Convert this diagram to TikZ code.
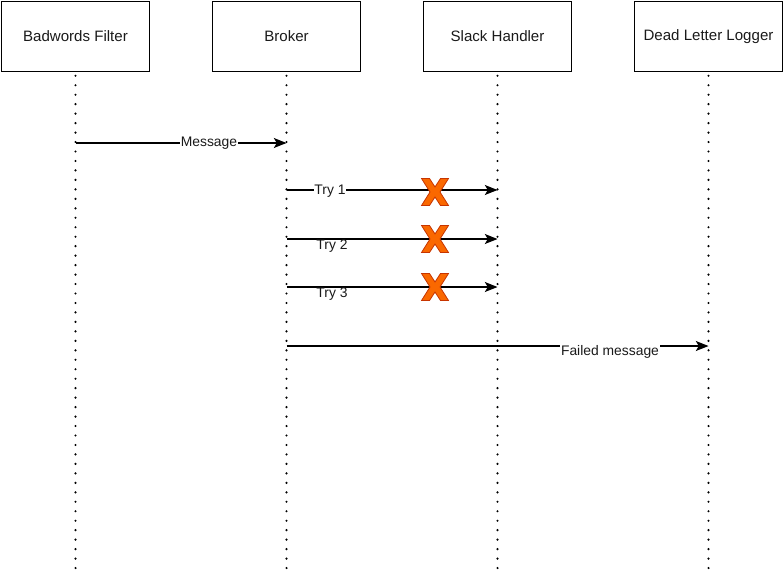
\documentclass[tikz,border=0pt]{standalone}
\usepackage{fontspec}
\setmainfont{Liberation Sans}
\usetikzlibrary{arrows.meta}
\definecolor{xfill}{HTML}{FA6800}
\definecolor{xline}{HTML}{C73500}
\definecolor{txt}{HTML}{1A1A1A}
\tikzset{
  actor/.style={draw, line width=0.9pt, minimum width=111.5pt, minimum height=53pt, inner sep=0pt, font=\fontsize{11.3pt}{13pt}\selectfont, text=txt},
  lifeline/.style={line width=1.8pt, line cap=round, dash pattern=on 0pt off 7.1pt},
  msg/.style={line width=0.9pt, -{Stealth[length=9.5pt,width=7.5pt,inset=2.2pt]}},
  lbl/.style={fill=white, inner sep=0.5pt, font=\fontsize{10.4pt}{12pt}\selectfont, text=txt},
  xmark/.style={fill=xfill, draw=xline, line width=0.6pt, line join=miter}
}
\begin{document}
\begin{tikzpicture}[x=0.75pt, y=-0.75pt]
\useasboundingbox (0,0) rectangle (784,576);
% actors
\node[actor] (bf) at (75.5,36.5) {Badwords Filter};
\node[actor] (br) at (286.5,36.5) {Broker};
\node[actor] (sh) at (497.5,36.5) {Slack Handler};
\node[actor] (dl) at (708.5,36.5) {Dead Letter Logger};
% lifeline ends
\coordinate (bfe) at (75.5,576);
\coordinate (bre) at (286.5,576);
\coordinate (she) at (497.5,576);
\coordinate (dle) at (708.5,576);
\draw[lifeline] ([yshift=-2.5pt]bf.south) -- (bfe);
\draw[lifeline] ([yshift=-2.5pt]br.south) -- (bre);
\draw[lifeline] ([yshift=-2.5pt]sh.south) -- (she);
\draw[lifeline] ([yshift=-2.5pt]dl.south) -- (dle);
% message points
\coordinate (m1s) at (75.5,143);
\coordinate (m1e) at (286.5,143);
\coordinate (t1s) at (286.5,190);
\coordinate (t1e) at (497.5,190);
\coordinate (t2s) at (286.5,239);
\coordinate (t2e) at (497.5,239);
\coordinate (t3s) at (286.5,287);
\coordinate (t3e) at (497.5,287);
\coordinate (fs) at (286.5,346);
\coordinate (fe) at (708.5,346);
% arrows
\draw[msg] (m1s) -- (m1e);
\draw[msg] (t1s) -- (t1e);
\draw[msg] (t2s) -- (t2e);
\draw[msg] (t3s) -- (t3e);
\draw[msg] (fs) -- (fe);
% labels
\node[lbl] (lm) at (209,143.5) {Message};
\node[lbl] (l1) at (330,191.5) {Try 1};
\node[lbl] (l2) at (332,246.5) {Try 2};
\node[lbl] (l3) at (332,294.5) {Try 3};
\node[lbl] (lf) at (610,351.5) {Failed message};
% X marks
\foreach \cy [count=\i] in {192,239,287}{
  \draw[xmark, shift={(435,\cy)}] (-13.5,-13.5) -- (-5.5,-13.5) -- (0,-5) -- (5.5,-13.5) -- (13.5,-13.5) -- (5,0) -- (13.5,13.5) -- (5.5,13.5) -- (0,5) -- (-5.5,13.5) -- (-13.5,13.5) -- (-5,0) -- cycle;
}
\end{tikzpicture}
\end{document}
